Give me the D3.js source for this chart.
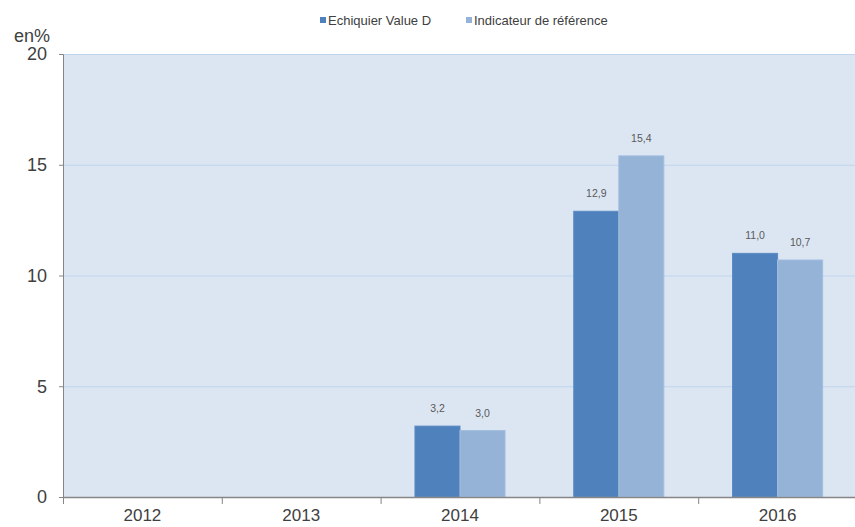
<!DOCTYPE html>
<html>
<head>
<meta charset="utf-8">
<script src="https://cdn.jsdelivr.net/npm/d3@7"></script>
<style>
  body { margin: 0; background: #fff; }
  text { font-family: "Liberation Sans", Arial, sans-serif; }
</style>
</head>
<body>
<div class="chart"></div>
<script>
const years = ["2012", "2013", "2014", "2015", "2016"];
const seriesNames = ["Echiquier Value D", "Indicateur de référence"];
const fundValues = [null, null, 3.2, 12.9, 11.0];
const refValues = [null, null, 3.0, 15.4, 10.7];
const yTicks = [0, 5, 10, 15, 20];

const colors = ["#4f81bd", "#95b3d7"];
const W = 855, H = 527;
const margin = {top: 54, right: -2, bottom: 30, left: 63};

const data = years.map((y, i) => ({year: y, vals: [fundValues[i], refValues[i]]}));

const svg = d3.select(".chart").append("svg")
  .attr("width", W)
  .attr("height", H);

const x0 = d3.scaleBand()
  .domain(years)
  .range([margin.left, W - margin.right])
  .padding(0);

const x1 = d3.scaleBand()
  .domain(seriesNames)
  .range([0, x0.bandwidth()])
  .paddingInner(0)
  .paddingOuter(0.763);

const y = d3.scaleLinear()
  .domain([0, 20])
  .range([H - margin.bottom, margin.top]);

// plot background
svg.append("rect")
  .attr("x", margin.left)
  .attr("y", y(20))
  .attr("width", W - margin.right - margin.left)
  .attr("height", y(0) - y(20))
  .attr("fill", "#dce6f2");

// gridlines
svg.append("g")
  .selectAll("line")
  .data(yTicks.filter(d => d > 0))
  .join("line")
  .attr("x1", margin.left)
  .attr("x2", W)
  .attr("y1", d => y(d) + 0.5)
  .attr("y2", d => y(d) + 0.5)
  .attr("stroke", "#bfd4ee")
  .attr("stroke-width", 1.2);

// bars
const groups = svg.append("g")
  .selectAll("g")
  .data(data)
  .join("g")
  .attr("transform", d => `translate(${x0(d.year)},0)`);

groups.selectAll("rect")
  .data(d => d.vals.map((v, i) => ({name: seriesNames[i], v: v, i: i})).filter(e => e.v != null))
  .join("rect")
  .attr("x", d => x1(d.name))
  .attr("y", d => y(d.v))
  .attr("width", x1.bandwidth())
  .attr("height", d => y(0) - y(d.v))
  .attr("fill", d => colors[d.i])
  .attr("stroke", d => d.i === 0 ? "#5a8ac4" : "#a3bfe0")
  .attr("stroke-width", 1);

groups.selectAll("text")
  .data(d => d.vals.map((v, i) => ({name: seriesNames[i], v: v, i: i})).filter(e => e.v != null))
  .join("text")
  .attr("x", d => x1(d.name) + x1.bandwidth() / 2)
  .attr("y", d => y(d.v) - 14)
  .attr("text-anchor", "middle")
  .attr("font-size", "10.5px")
  .attr("fill", "#595959")
  .text(d => d3.format(".1f")(d.v).replace(".", ","));

// y axis
const yAxis = d3.axisLeft(y)
  .tickValues(yTicks)
  .tickSize(4)
  .tickPadding(12);

svg.append("g")
  .attr("class", "axis y-axis")
  .attr("transform", `translate(${margin.left},0)`)
  .call(yAxis)
  .call(g => g.select(".domain").attr("stroke", "#868686"))
  .call(g => g.selectAll(".tick line").attr("stroke", "#868686"))
  .call(g => g.selectAll(".tick text").attr("font-size", "18px").attr("fill", "#404040")
    .attr("font-family", "'Liberation Sans', Arial, sans-serif"));

// x axis
const xAxis = d3.axisBottom(x0)
  .tickSize(0)
  .tickPadding(12);

svg.append("g")
  .attr("class", "axis x-axis")
  .attr("transform", `translate(0,${y(0)})`)
  .call(xAxis)
  .call(g => g.select(".domain").attr("stroke", "#868686").attr("stroke-width", 1.5))
  .call(g => g.selectAll(".tick text").attr("font-size", "17px").attr("fill", "#404040")
    .attr("font-family", "'Liberation Sans', Arial, sans-serif"));

// category boundary ticks
svg.append("g")
  .selectAll("line")
  .data(years)
  .join("line")
  .attr("x1", d => x0(d) + 0.5)
  .attr("x2", d => x0(d) + 0.5)
  .attr("y1", y(0))
  .attr("y2", y(0) + 7)
  .attr("stroke", "#868686");

// unit label
svg.append("text")
  .attr("x", 50)
  .attr("y", 42)
  .attr("text-anchor", "end")
  .attr("font-size", "18px")
  .attr("fill", "#404040")
  .text("en%");

// legend
const legendX = [320, 466];
const legend = svg.append("g")
  .selectAll("g")
  .data(seriesNames)
  .join("g")
  .attr("transform", (d, i) => `translate(${legendX[i]},0)`);

legend.append("rect")
  .attr("x", 0)
  .attr("y", 17)
  .attr("width", 6)
  .attr("height", 6)
  .attr("fill", (d, i) => colors[i]);

legend.append("text")
  .attr("x", 8)
  .attr("y", 24.5)
  .attr("font-size", "13px")
  .attr("fill", "#404040")
  .text(d => d);
</script>
</body>
</html>
